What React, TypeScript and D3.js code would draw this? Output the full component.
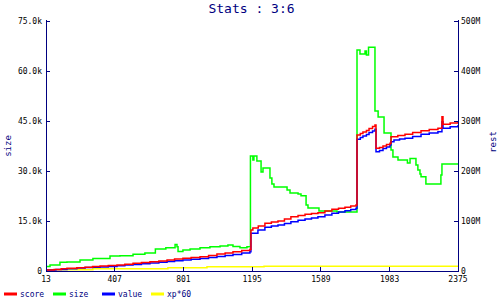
import { useMemo } from 'react';
import * as d3 from 'd3';

// x ticks (game turn) and series
const xTicks = [13, 407, 801, 1195, 1589, 1983, 2375];
const leftTicks = [0, 15000, 30000, 45000, 60000, 75000];
const rightTicks = [0, 100e6, 200e6, 300e6, 400e6, 500e6];

// size, in thousands (left axis)
const sizeData: [number, number][] = [
	[13, 1.35], [36, 1.8], [93, 2.6], [133, 2.7], [208, 3.3], [282, 3.75],
	[380, 4.5], [437, 4.6], [512, 5.0], [580, 5.4], [640, 6.6], [700, 7.0],
	[753, 7.95], [764, 7.3], [770, 5.85], [798, 6.3], [839, 6.6], [896, 7.0],
	[953, 7.3], [1011, 7.5], [1056, 7.8], [1085, 7.35], [1125, 7.0], [1165, 7.3],
	[1185, 34.5], [1199, 33.3], [1205, 34.5], [1222, 33], [1246, 29.7],
	[1257, 30.9], [1297, 27.9], [1308, 26.1], [1320, 25.2], [1395, 24.3],
	[1412, 23.4], [1458, 23.1], [1475, 22.6], [1504, 19.8], [1515, 18.9],
	[1578, 18.0], [1681, 17.7], [1796, 66.3], [1813, 65.1], [1842, 66.0],
	[1850, 64.8], [1862, 67.1], [1899, 48], [1917, 46.2], [1951, 41.4],
	[1991, 36.3], [2002, 34.2], [2031, 33.3], [2085, 32.4], [2100, 33.75],
	[2134, 31.8], [2145, 30.3], [2157, 29.1], [2163, 28.3], [2191, 26.1],
	[2277, 28.8], [2283, 32.1], [2375, 32.1],
];

// score, in millions (right axis)
const scoreData: [number, number][] = [
	[13, 2], [60, 3.2], [100, 4.4], [133, 5.4], [190, 6.4], [237, 7.4],
	[280, 8.8], [323, 10], [370, 11], [420, 12], [465, 13.6], [512, 15.4],
	[560, 17], [609, 18.6], [660, 20.2], [707, 22], [750, 23.8], [798, 25.4],
	[845, 27], [896, 28.6], [945, 31], [993, 34], [1040, 36], [1085, 38.6],
	[1135, 41], [1182, 43.4],
	[1188, 82], [1199, 86], [1230, 90], [1268, 95.4], [1305, 98], [1343, 100],
	[1380, 104], [1417, 108.6], [1458, 111], [1498, 113.4], [1535, 115],
	[1572, 116.6], [1612, 120], [1652, 123.4], [1690, 125.5], [1727, 127.4],
	[1760, 130], [1790, 132],
	[1796, 272], [1815, 275], [1830, 278], [1850, 281], [1865, 285],
	[1885, 289], [1899, 292], [1905, 245.4], [1925, 247], [1945, 250],
	[1965, 253], [1985, 255.4], [1991, 268.6], [2030, 271], [2071, 273.4],
	[2115, 277], [2163, 280.6], [2210, 283], [2260, 285.4], [2283, 308.6],
	[2289, 293.4], [2330, 296], [2375, 298.6],
];

// value, in millions (right axis)
const valueData: [number, number][] = [
	[13, 2], [70, 3], [133, 4.6], [190, 5.8], [237, 6.8], [280, 7.4],
	[323, 8], [370, 9.2], [420, 10.5], [465, 11.8], [512, 13], [560, 14.5],
	[609, 16], [660, 17.5], [707, 19], [750, 20.5], [798, 22], [845, 23.5],
	[896, 25], [945, 27], [993, 29], [1040, 31], [1085, 33], [1135, 36],
	[1182, 38.6],
	[1188, 75.4], [1228, 82], [1268, 87.4], [1305, 90], [1343, 92],
	[1380, 95], [1417, 98.6], [1458, 101.5], [1498, 104], [1535, 106],
	[1572, 108.6], [1612, 112], [1652, 115.4], [1690, 118], [1727, 120.6],
	[1760, 123], [1790, 125.4],
	[1796, 263.4], [1815, 267], [1830, 270], [1850, 273], [1865, 277],
	[1885, 280], [1899, 283.4], [1905, 238.6], [1925, 241], [1945, 245],
	[1965, 248], [1985, 252], [1991, 258.6], [2008, 262], [2040, 264],
	[2071, 265.4], [2115, 269], [2163, 273.4], [2210, 276], [2260, 278.6],
	[2283, 298.6], [2289, 285.4], [2330, 288.5], [2375, 292],
];

// xp*60, in millions (right axis)
const xpData: [number, number][] = [
	[13, 2.6], [282, 4.6], [712, 6.6], [936, 8.6], [1263, 9.4], [2375, 9.4],
];

const legendItems = [
	{ name: 'score', color: '#ff0000' },
	{ name: 'size', color: '#00ff00' },
	{ name: 'value', color: '#0000ff' },
	{ name: 'xp*60', color: '#ffff00' },
];

const NAVY = '#000080';
const FONT = '"DejaVu Sans Mono", monospace';

export default function App() {
	const width = 500;
	const height = 300;

	const x = d3.scaleLinear().domain([13, 2375]).range([46, 458]);
	const yLeft = d3.scaleLinear().domain([0, 75000]).range([271, 21]);
	const yRight = d3.scaleLinear().domain([0, 500e6]).range([271, 21]);

	const paths = useMemo(() => {
		const leftLine = d3
			.line<[number, number]>()
			.x((d) => x(d[0]))
			.y((d) => yLeft(d[1] * 1000))
			.curve(d3.curveStepAfter);
		const rightLine = d3
			.line<[number, number]>()
			.x((d) => x(d[0]))
			.y((d) => yRight(d[1] * 1e6))
			.curve(d3.curveStepAfter);
		return {
			size: leftLine(sizeData),
			value: rightLine(valueData),
			score: rightLine(scoreData),
			xp: rightLine(xpData),
		};
	}, []);

	const fmtLeft = (v: number) => (v === 0 ? '0' : (v / 1000).toFixed(1) + 'k');
	const fmtRight = (v: number) => (v === 0 ? '0' : v / 1e6 + 'M');

	return (
		<svg
			width={width}
			height={height}
			style={{ position: 'absolute', left: 0, top: 0, background: '#fff' }}
			fontFamily={FONT}>
			{/* title */}
			<text x={251.5} y={13} textAnchor='middle' fontSize={13} fill={NAVY}>
				Stats : 3:6
			</text>

			{/* series */}
			<path d={paths.size ?? ''} fill='none' stroke='#00ff00' strokeWidth={1.5} />
			<path d={paths.xp ?? ''} fill='none' stroke='#ffff00' strokeWidth={1.5} />
			<path d={paths.value ?? ''} fill='none' stroke='#0000ff' strokeWidth={1.5} />
			<path d={paths.score ?? ''} fill='none' stroke='#ff0000' strokeWidth={1.5} />

			{/* axes */}
			<g stroke={NAVY} strokeWidth={1} shapeRendering='crispEdges'>
				<line x1={46} x2={46} y1={20} y2={271.5} />
				<line x1={458} x2={458} y1={20} y2={271.5} />
				<line x1={46} x2={458} y1={271.5} y2={271.5} />
				{leftTicks.map((t) => (
					<line key={'l' + t} x1={46} x2={50} y1={yLeft(t)} y2={yLeft(t)} />
				))}
				{rightTicks.map((t) => (
					<line key={'r' + t} x1={454} x2={458} y1={yRight(t)} y2={yRight(t)} />
				))}
				{xTicks.map((t) => (
					<line key={'x' + t} x1={x(t)} x2={x(t)} y1={267} y2={271.5} />
				))}
			</g>

			<g fontSize={8} fill='#000'>
				{leftTicks.map((t) => (
					<text key={'lt' + t} x={42} y={yLeft(t) + 3} textAnchor='end'>
						{fmtLeft(t)}
					</text>
				))}
				{rightTicks.map((t) => (
					<text key={'rt' + t} x={461} y={yRight(t) + 3}>
						{fmtRight(t)}
					</text>
				))}
				{xTicks.map((t) => (
					<text key={'xt' + t} x={x(t)} y={282} textAnchor='middle'>
						{t}
					</text>
				))}
			</g>

			{/* axis titles */}
			<text
				transform='translate(11,146) rotate(-90)'
				textAnchor='middle'
				fontSize={9}
				fill={NAVY}>
				size
			</text>
			<text
				transform='translate(495.5,142) rotate(-90)'
				textAnchor='middle'
				fontSize={9}
				fill={NAVY}>
				rest
			</text>

			{/* legend */}
			{legendItems.map((item, i) => (
				<g key={item.name} transform={`translate(${4 + i * 49},0)`}>
					<line x1={0} x2={13} y1={294} y2={294} stroke={item.color} strokeWidth={3} />
					<text x={16} y={297} fontSize={8} fill={NAVY}>
						{item.name}
					</text>
				</g>
			))}
		</svg>
	);
}
